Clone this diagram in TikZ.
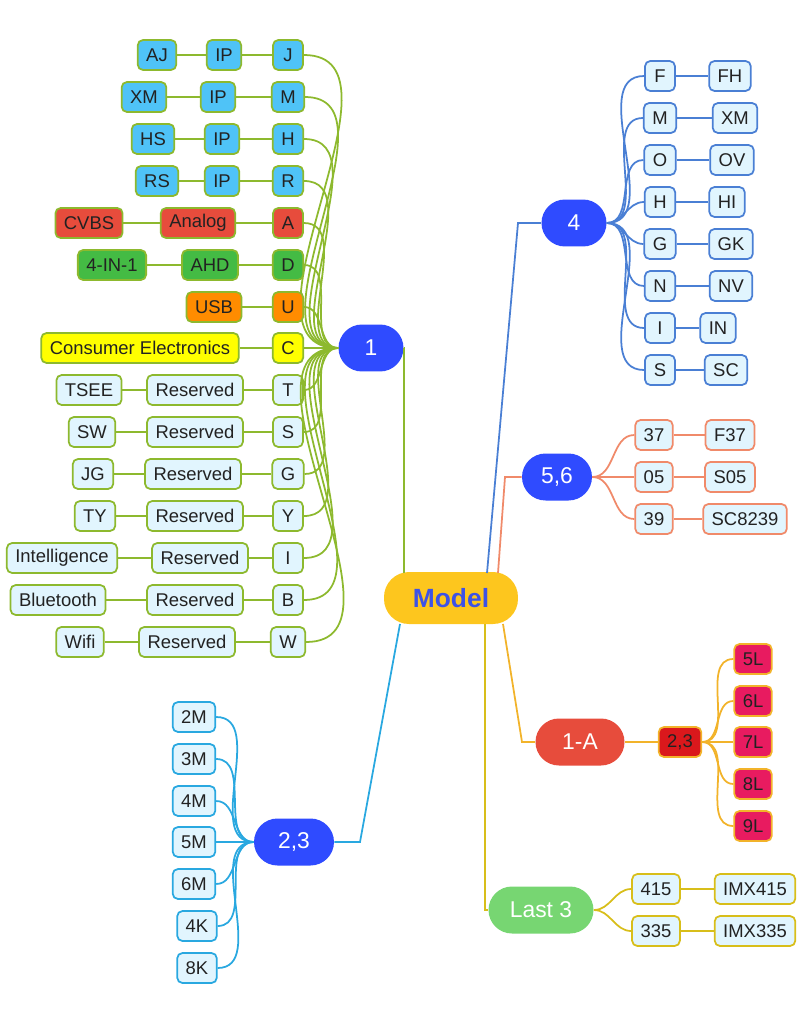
\documentclass[tikz,border=0pt]{standalone}
\usepackage{fontspec}
\setmainfont{Liberation Sans}
\definecolor{lblue}{HTML}{E1F5FE}
\definecolor{txt}{HTML}{222222}
\definecolor{cg}{HTML}{8DB92E}
\definecolor{cb}{HTML}{4A7FD4}
\definecolor{cs}{HTML}{F08A6A}
\definecolor{co}{HTML}{F2B32A}
\definecolor{cy}{HTML}{D8BE1A}
\definecolor{cl}{HTML}{29A8E0}
\definecolor{bb}{HTML}{2F4BFF}
\definecolor{modelfill}{HTML}{FDC61E}
\definecolor{modeltext}{HTML}{3D52E6}
\definecolor{onea}{HTML}{E74C3C}
\definecolor{lastg}{HTML}{77D672}
\definecolor{ip}{HTML}{4FC3F7}
\definecolor{an}{HTML}{E74C3C}
\definecolor{gr}{HTML}{44BB44}
\definecolor{og}{HTML}{FF8C00}
\definecolor{ye}{HTML}{FFFF00}
\definecolor{dred}{HTML}{DA181C}
\definecolor{pink}{HTML}{E81B60}
\begin{document}
\begin{tikzpicture}[x=0.02cm,y=-0.02cm,
	leaf/.style={draw=#1,line width=1pt,rounded corners=3pt,fill=lblue,minimum height=0.6cm,minimum width=0.6cm,inner xsep=0.17cm,inner ysep=0pt,font=\fontsize{10.5}{12}\selectfont,text=txt},
	branch/.style={fill=#1,rounded corners=0.47cm,minimum height=0.94cm,minimum width=1.3cm,text=white,font=\fontsize{13}{15}\selectfont},
	link/.style={draw=#1,line width=1pt}]
	\useasboundingbox (0,0) rectangle (801,1024);
	% centre
		\node [fill=modelfill,rounded corners=0.5cm,minimum width=2.68cm,minimum height=1.04cm,text=modeltext,font=\fontsize{15}{17}\selectfont\bfseries] (model) at (451,598) {Model};
	% branches
		\node [branch=bb] (b1) at (371,348) {1};
		\node [branch=bb] (b4) at (574,223) {4};
		\node [branch=bb,minimum width=1.4cm] (b56) at (557,477) {5,6};
		\node [branch=onea,minimum width=1.78cm] (b1a) at (580,742) {1-A};
		\node [branch=bb,minimum width=1.6cm] (b23) at (294,842) {2,3};
		\node [branch=lastg,minimum width=2.1cm] (last) at (541,910) {Last 3};
	% model to branches
		\draw [link=cg] (404,573) -- (404,348) -- (b1.east);
		\draw [link=cb] (487,573) -- (518,223) -- (b4.west);
		\draw [link=cs] (498,573) -- (505,477) -- (b56.west);
		\draw [link=co] (503,624) -- (522,742) -- (b1a.west);
		\draw [link=cy] (485,624) -- (485,910) -- (last.west);
		\draw [link=cl] (400,624) -- (360,842) -- (b23.east);
	% branch 1
		\foreach \y/\a/\xa/\b/\xb/\c/\f in {
			55/AJ/157/IP/224/J/ip, 97/XM/144/IP/218/M/ip, 139/HS/153/IP/222/H/ip,
			181/RS/157/IP/222/R/ip, 223/CVBS/89/Analog/198/A/an, 265/4-IN-1/112/AHD/210/D/gr,
			390/TSEE/89/Reserved/195/T/lblue, 432/SW/92/Reserved/195/S/lblue,
			474/JG/93/Reserved/193/G/lblue, 516/TY/95/Reserved/195/Y/lblue,
			558/Intelligence/62/Reserved/200/I/lblue, 600/Bluetooth/58/Reserved/195/B/lblue,
			642/Wifi/80/Reserved/187/W/lblue}{
			\node [leaf=cg,fill=\f] (r\y) at (288,\y) {\c};
			\node [leaf=cg,fill=\f] (m\y) at (\xb,\y) {\b};
			\node [leaf=cg,fill=\f] (l\y) at (\xa,\y) {\a};
			\draw [link=cg] (l\y) -- (m\y) -- (r\y);
			\draw [link=cg] (r\y.east) to [out=0,in=180] (b1.west);
		}
		\node [leaf=cg,fill=og] (r307) at (288,307) {U};
		\node [leaf=cg,fill=og] (m307) at (214,307) {USB};
		\node [leaf=cg,fill=ye] (r348) at (288,348) {C};
		\node [leaf=cg,fill=ye] (m348) at (140,348) {Consumer Electronics};
		\draw [link=cg] (m307) -- (r307);
		\draw [link=cg] (m348) -- (r348);
		\draw [link=cg] (r307.east) to [out=0,in=180] (b1.west);
		\draw [link=cg] (r348.east) -- (b1.west);
	% branch 4
		\foreach \y/\a/\b/\xb in {76/F/FH/730, 118/M/XM/735, 160/O/OV/732, 202/H/HI/727,
			244/G/GK/731, 286/N/NV/731, 328/I/IN/718, 370/S/SC/726}{
			\node [leaf=cb] (p\y) at (660,\y) {\a};
			\node [leaf=cb] (q\y) at (\xb,\y) {\b};
			\draw [link=cb] (p\y) -- (q\y);
			\draw [link=cb] (b4.east) to [out=0,in=180] (p\y.west);
		}
	% branch 5,6
		\foreach \y/\a/\b/\xb in {435/37/F37/730, 477/05/S05/730, 519/39/SC8239/745}{
			\node [leaf=cs] (p\y) at (654,\y) {\a};
			\node [leaf=cs] (q\y) at (\xb,\y) {\b};
			\draw [link=cs] (p\y) -- (q\y);
			\draw [link=cs] (b56.east) to [out=0,in=180] (p\y.west);
		}
	% branch 1-A
		\node [leaf=co,fill=dred] (t23) at (680,742) {2,3};
		\draw [link=co] (b1a) -- (t23);
		\foreach \y/\a in {659/5L, 701/6L, 742/7L, 784/8L, 826/9L}{
			\node [leaf=co,fill=pink] (p\y) at (753,\y) {\a};
			\draw [link=co] (t23.east) to [out=0,in=180] (p\y.west);
		}
	% branch last 3
		\foreach \y/\a/\b in {889/415/IMX415, 931/335/IMX335}{
			\node [leaf=cy] (p\y) at (656,\y) {\a};
			\node [leaf=cy] (q\y) at (755,\y) {\b};
			\draw [link=cy] (p\y) -- (q\y);
			\draw [link=cy] (last.east) to [out=0,in=180] (p\y.west);
		}
	% branch 2,3
		\foreach \y/\a/\x in {717/2M/194, 759/3M/194, 801/4M/194, 842/5M/194, 884/6M/194, 926/4K/197, 968/8K/197}{
			\node [leaf=cl] (p\y) at (\x,\y) {\a};
			\draw [link=cl] (b23.west) to [out=180,in=0] (p\y.east);
		}
\end{tikzpicture}
\end{document}
